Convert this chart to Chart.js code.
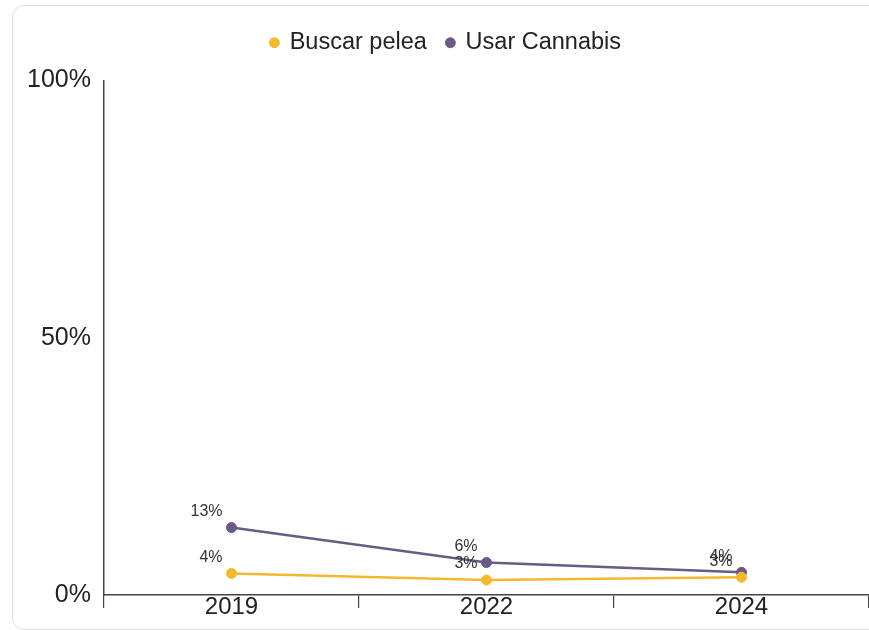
<!DOCTYPE html>
<html>
<head>
<meta charset="utf-8">
<script src="https://cdn.jsdelivr.net/npm/chart.js@4/dist/chart.umd.min.js"></script>
<style>
  html, body { margin: 0; padding: 0; background: #ffffff; overflow: hidden; width: 869px; height: 630px; }
  #card { position: absolute; left: 12px; top: 5px; width: 1000px; height: 625px; border: 1px solid #dedede; border-radius: 12px; box-sizing: border-box; }
  #wrap { position: absolute; left: 0; top: 0; width: 892px; height: 630px; }
</style>
</head>
<body>
<div id="card"></div>
<div id="wrap"><canvas id="c" width="892" height="630"></canvas></div>
<script>
const categories = ['2019', '2022', '2024'];
const seriesNames = ['Buscar pelea', 'Usar Cannabis'];
const buscarPelea = [4.2, 2.9, 3.45];
const usarCannabis = [13.1, 6.3, 4.4];
const yTicks = [0, 50, 100];

const colors = ['#F4B82F', '#6A5A85'];

const labelPlugin = {
  id: 'pointLabels',
  afterDatasetsDraw(chart) {
    const ctx = chart.ctx;
    ctx.save();
    ctx.font = '16px "Liberation Sans", Arial, sans-serif';
    ctx.fillStyle = '#333333';
    ctx.textAlign = 'right';
    ctx.textBaseline = 'middle';
    chart.data.datasets.forEach((ds, i) => {
      const meta = chart.getDatasetMeta(i);
      meta.data.forEach((pt, j) => {
        ctx.fillText(Math.round(ds.data[j]) + '%', pt.x - 9, pt.y - 16);
      });
    });
    ctx.restore();
  }
};

const legendPatch = {
  id: 'legendPatch',
  beforeUpdate(chart) {
    const lg = chart.legend;
    if (lg && !lg._patched) {
      const orig = lg.fit;
      lg.fit = function () { orig.call(this); this.height += 16; };
      lg._patched = true;
    }
  }
};

new Chart(document.getElementById('c'), {
  type: 'line',
  data: {
    labels: categories,
    datasets: [
      {
        label: seriesNames[0], data: buscarPelea,
        borderColor: colors[0], backgroundColor: colors[0],
        pointBackgroundColor: colors[0], pointBorderColor: colors[0],
        borderWidth: 2.5, pointRadius: 5, pointBorderWidth: 1, tension: 0
      },
      {
        label: seriesNames[1], data: usarCannabis,
        borderColor: colors[1], backgroundColor: colors[1],
        pointBackgroundColor: colors[1], pointBorderColor: colors[1],
        borderWidth: 2.5, pointRadius: 5, pointBorderWidth: 1, tension: 0
      }
    ]
  },
  options: {
    responsive: false,
    animation: false,
    devicePixelRatio: 1,
    layout: { padding: { top: 11, left: 0, right: 0, bottom: 0 } },
    plugins: {
      legend: {
        position: 'top',
        labels: {
          usePointStyle: true, pointStyle: 'circle',
          boxWidth: 7, boxHeight: 7, padding: 20,
          color: '#222222',
          font: { family: '"Liberation Sans", Arial, sans-serif', size: 23.5 }
        }
      },
      tooltip: { enabled: false }
    },
    scales: {
      x: {
        offset: true,
        afterFit(scale) { scale.height = 35; scale.paddingLeft = 0; scale.paddingRight = 23; },
        grid: { display: true, offset: true, drawOnChartArea: false, drawTicks: true, tickLength: 13, color: '#444444', lineWidth: 1.2 },
        border: { display: true, color: '#444444', width: 1.5 },
        ticks: { color: '#222222', padding: -15, font: { family: '"Liberation Sans", Arial, sans-serif', size: 24 } }
      },
      y: {
        min: 0, max: 100,
        afterFit(scale) { scale.width = 104; },
        afterBuildTicks(scale) { scale.ticks = yTicks.map(v => ({ value: v })); },
        grid: { display: true, drawOnChartArea: false, drawTicks: false },
        border: { display: true, color: '#444444', width: 1.5 },
        ticks: {
          color: '#222222', padding: 13,
          font: { family: '"Liberation Sans", Arial, sans-serif', size: 25 },
          callback: v => v + '%'
        }
      }
    }
  },
  plugins: [labelPlugin, legendPatch]
});
</script>
</body>
</html>
